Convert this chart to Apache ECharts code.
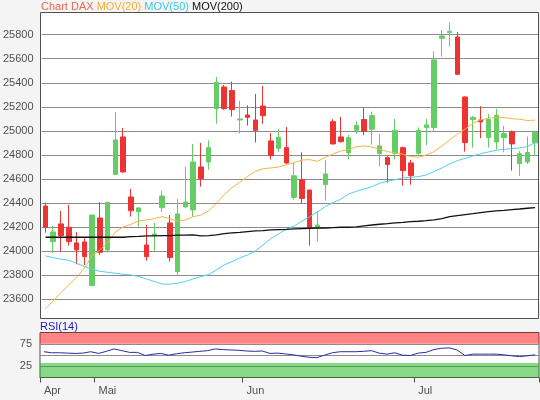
<!DOCTYPE html>
<html><head><meta charset="utf-8">
<script src="https://cdn.jsdelivr.net/npm/echarts@6/dist/echarts.min.js"></script>
<style>html,body{margin:0;padding:0;background:#f4f4f4}#c{width:540px;height:400px}</style>
</head><body><div id="c"></div>
<script>
const dates = [
 '2026-04-22','2026-04-23','2026-04-24','2026-04-27','2026-04-28','2026-04-29','2026-04-30',
 '2026-05-04','2026-05-05','2026-05-06','2026-05-07','2026-05-08','2026-05-11','2026-05-12','2026-05-13','2026-05-14','2026-05-15',
 '2026-05-18','2026-05-19','2026-05-20','2026-05-21','2026-05-22','2026-05-26','2026-05-27','2026-05-28','2026-05-29',
 '2026-06-01','2026-06-02','2026-06-03','2026-06-04','2026-06-05','2026-06-08','2026-06-09','2026-06-10','2026-06-11','2026-06-12',
 '2026-06-15','2026-06-16','2026-06-17','2026-06-18','2026-06-19','2026-06-22','2026-06-23','2026-06-24','2026-06-25','2026-06-26',
 '2026-06-29','2026-06-30',
 '2026-07-01','2026-07-02','2026-07-03','2026-07-06','2026-07-07','2026-07-08','2026-07-09','2026-07-10',
 '2026-07-13','2026-07-14','2026-07-15','2026-07-16','2026-07-17','2026-07-20','2026-07-21','2026-07-22'
];
const monthNames = ['Jan','Feb','Mär','Apr','Mai','Jun','Jul','Aug','Sep','Okt','Nov','Dez'];
const opens  = [24376,24080,24227,24199,24069,24077,23714,24276,24011,24637,24950,24451,24329,24052,24130,24362,24235,23831,24368,24343,24700,24742,25185,25365,25335,25091,25132,25091,25207,24917,24856,24861,24447,24594,24509,24199,24554,25077,24950,24817,25006,25095,25014,24811,24778,24814,24861,24734,24814,25028,25028,25770,25817,25781,25282,25094,25091,24944,24908,24944,24994,24728,24742,24901];
const closes = [24199,24160,24130,24080,24011,23955,24301,23991,24407,24925,24659,24337,24360,23955,24144,24459,23947,24310,24409,24742,24603,24861,25404,25185,25177,25099,25113,25005,25127,24795,24947,24734,24627,24439,24199,24218,24642,24892,24911,24944,25045,24998,25127,24875,24720,25005,24670,24628,25005,25050,25590,25789,25828,25470,24903,25113,25075,25094,25130,24977,24892,24811,24820,24986];
const lows   = [24155,23988,23997,24047,23891,23886,23714,23969,23991,24637,24653,24288,24205,23922,24005,24326,23914,23803,24360,24288,24537,24678,25060,25175,25119,24977,25044,24903,25060,24762,24828,24725,24428,24396,24047,24080,24420,24886,24903,24764,24975,24964,24886,24706,24570,24764,24545,24553,24800,24883,24995,25617,25700,25470,24828,24861,24939,24861,24844,24822,24670,24626,24725,24795];
const highs  = [24404,24210,24335,24385,24160,24107,24301,24407,24407,25157,25024,24517,24360,24218,24235,24501,24301,24434,24703,24891,24900,24922,25448,25382,25410,25251,25213,25307,25373,24983,25014,25033,24733,24822,24509,24332,24759,25097,25116,24966,25079,25194,25160,24974,24790,25099,24870,24759,25030,25099,25662,25839,25902,25822,25287,25124,25205,25141,25183,25041,25003,24833,24953,25003];
const mov20  = [23523,23587,23656,23720,23783,23858,23963,24010,24071,24160,24201,24224,24252,24260,24271,24288,24271,24249,24260,24288,24300,24337,24398,24470,24529,24573,24620,24664,24686,24692,24700,24720,24736,24758,24761,24747,24781,24808,24833,24844,24869,24875,24866,24847,24828,24817,24806,24786,24781,24800,24828,24875,24925,24972,25016,25063,25091,25105,25113,25110,25102,25097,25086,25090];
const mov50  = [23961,23947,23933,23925,23900,23872,23850,23833,23825,23817,23808,23803,23789,23770,23748,23728,23726,23734,23748,23770,23789,23806,23844,23886,23914,23944,23969,24002,24052,24105,24144,24182,24210,24249,24288,24326,24371,24404,24432,24476,24498,24517,24537,24565,24581,24595,24609,24614,24620,24634,24662,24692,24725,24753,24772,24792,24811,24825,24839,24847,24853,24858,24869,24903];
const mov200 = [24116,24116,24116,24116,24116,24116,24116,24116,24116,24116,24116,24122,24124,24127,24127,24130,24130,24133,24133,24135,24127,24130,24135,24146,24152,24157,24163,24169,24171,24177,24180,24182,24185,24188,24191,24193,24193,24196,24199,24199,24202,24210,24218,24224,24229,24235,24240,24246,24249,24254,24260,24271,24288,24296,24304,24312,24321,24329,24335,24340,24346,24351,24357,24362];
const rsi14  = [57.3,55.0,55.0,54.2,53.5,54.2,57.3,53.5,58.1,63.5,59.7,55.8,55.8,48.8,51.9,53.5,49.6,52.7,55.0,56.5,58.1,59.7,63.5,62.0,61.2,60.4,58.9,58.1,58.9,53.5,54.2,52.3,50.4,47.3,45.0,44.2,49.6,55.0,57.3,57.3,57.3,58.1,59.7,54.2,51.9,55.0,49.6,48.8,54.2,55.8,62.0,65.0,65.8,61.2,48.8,51.9,51.9,51.9,51.9,50.4,48.1,46.5,48.1,50.4];
const priceTicks = {min: 23400, max: 26000, step: 200};
const rsiTicks = ['25','75'];

const candles = dates.map((d, i) => [opens[i], closes[i], lows[i], highs[i]]);
const isMonthStart = (i) => i === 0 || (i < dates.length && dates[i].slice(5,7) !== dates[i-1].slice(5,7));
const FONT = '"Liberation Sans", Arial, sans-serif';
const UP = '#66cc66', DOWN = '#ee3333';

const chart = echarts.init(document.getElementById('c'), null, {renderer: 'canvas'});
chart.setOption({
  backgroundColor: '#f4f4f4',
  animation: false,
  textStyle: {fontFamily: FONT},
  title: {
    left: 41, top: 1, padding: 0,
    text: '{a|Chart DAX} {b|MOV(20)} {c|MOV(50)} {d|MOV(200)}',
    textStyle: {
      fontSize: 11, fontWeight: 'normal', fontFamily: FONT,
      rich: {
        a: {color: '#e8694e', fontSize: 11, fontFamily: FONT},
        b: {color: '#f5b030', fontSize: 11, fontFamily: FONT},
        c: {color: '#3cc8ec', fontSize: 11, fontFamily: FONT},
        d: {color: '#111111', fontSize: 11, fontFamily: FONT}
      }
    }
  },
  graphic: [
    {type: 'rect', z: -1, silent: true, shape: {x: 40, y: 12, width: 499, height: 307}, style: {fill: '#ffffff'}},
    {type: 'rect', z: 50, silent: true, shape: {x: 40.5, y: 12.5, width: 498, height: 306}, style: {fill: null, stroke: '#505050', lineWidth: 1}},
    {type: 'text', z: 50, silent: true, left: 40, top: 321, style: {text: 'RSI(14)', fill: '#1a1acc', font: '11px ' + FONT}}
  ],
  grid: [
    {left: 40, right: 1, top: 10.6, height: 312.8, show: false},
    {left: 40, right: 1, top: 332.5, height: 45, show: true, backgroundColor: '#ffffff', borderColor: '#505050', borderWidth: 1}
  ],
  xAxis: [
    {type: 'category', gridIndex: 0, data: dates, boundaryGap: true, show: false},
    {type: 'category', gridIndex: 1, data: dates, boundaryGap: true,
     axisLine: {show: true, lineStyle: {color: '#505050'}},
     axisTick: {show: true, length: 5, interval: (i) => isMonthStart(i), lineStyle: {color: '#505050'}},
     axisLabel: {interval: (i) => isMonthStart(i), align: 'left', margin: 8, color: '#505050', fontSize: 11, fontFamily: FONT,
                 formatter: (v) => monthNames[parseInt(v.slice(5,7), 10) - 1]},
     splitLine: {show: false}}
  ],
  yAxis: [
    {type: 'value', gridIndex: 0, min: priceTicks.min, max: priceTicks.max, interval: priceTicks.step,
     axisLine: {show: false}, axisTick: {show: false},
     axisLabel: {showMinLabel: false, showMaxLabel: false, color: '#505050', fontSize: 11, margin: 8, fontFamily: FONT,
                 formatter: (v) => String(v)},
     splitLine: {show: true, showMinLine: false, showMaxLine: false, lineStyle: {color: '#8c8c8c', width: 1}}},
    {type: 'value', gridIndex: 1, min: 0, max: 100, interval: 25,
     axisLine: {show: false}, axisTick: {show: false},
     axisLabel: {color: '#505050', fontSize: 11, margin: 8, fontFamily: FONT,
                 formatter: (v) => rsiTicks.indexOf(String(v)) >= 0 ? String(v) : ''},
     splitLine: {show: true, showMinLine: false, showMaxLine: false, lineStyle: {color: '#8c8c8c', width: 1}}}
  ],
  series: [
    {type: 'candlestick', name: 'DAX', xAxisIndex: 0, yAxisIndex: 0, data: candles, barWidth: 5,
     itemStyle: {color: UP, color0: DOWN, borderColor: UP, borderColor0: DOWN, borderWidth: 1}},
    {type: 'line', name: 'MOV(20)', xAxisIndex: 0, yAxisIndex: 0, data: mov20, showSymbol: false, symbol: 'none',
     lineStyle: {color: '#f5b540', width: 1}, z: 3},
    {type: 'line', name: 'MOV(50)', xAxisIndex: 0, yAxisIndex: 0, data: mov50, showSymbol: false, symbol: 'none',
     lineStyle: {color: '#4fd0f0', width: 1}, z: 3},
    {type: 'line', name: 'MOV(200)', xAxisIndex: 0, yAxisIndex: 0, data: mov200, showSymbol: false, symbol: 'none',
     lineStyle: {color: '#111111', width: 1.3}, z: 3},
    {type: 'line', name: 'RSI(14)', xAxisIndex: 1, yAxisIndex: 1, data: rsi14, showSymbol: false, symbol: 'none',
     lineStyle: {color: '#2a2aaa', width: 1}, z: 4,
     markArea: {silent: true, data: [
       [{yAxis: 75, itemStyle: {color: 'rgba(255,0,0,0.48)'}}, {yAxis: 100}],
       [{yAxis: 0, itemStyle: {color: 'rgba(20,175,20,0.5)'}}, {yAxis: 32}]
     ]}}
  ]
});
</script></body></html>
